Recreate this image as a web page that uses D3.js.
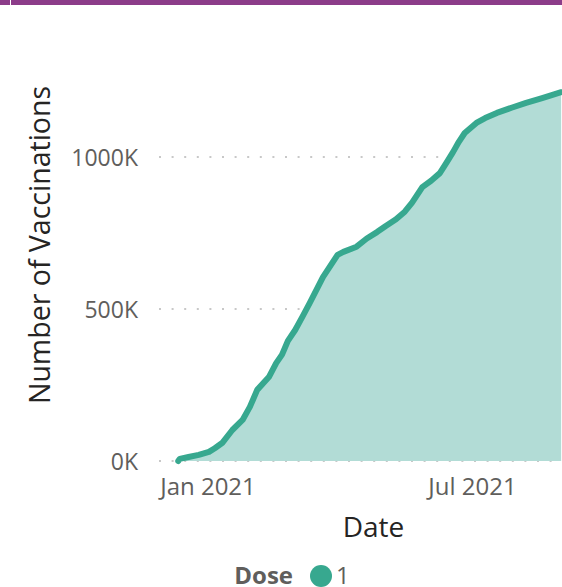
<!DOCTYPE html>
<html><head><meta charset="utf-8">
<script src="https://cdn.jsdelivr.net/npm/d3@7"></script>
<style>body{margin:0;background:#fff;overflow:hidden} svg{display:block}</style>
</head><body><svg id="c" width="562" height="587"></svg>
<script>
// Data (values in thousands)
const dates = ["2020-12-12","2020-12-13","2020-12-19","2020-12-26","2021-01-02","2021-01-06","2021-01-11","2021-01-18","2021-01-25","2021-01-30","2021-02-04","2021-02-12","2021-02-17","2021-02-21","2021-02-25","2021-03-02","2021-03-07","2021-03-12","2021-03-21","2021-03-31","2021-04-04","2021-04-13","2021-04-20","2021-04-27","2021-05-03","2021-05-10","2021-05-16","2021-05-21","2021-05-28","2021-06-03","2021-06-09","2021-06-14","2021-06-18","2021-06-22","2021-06-26","2021-07-04","2021-07-10","2021-07-18","2021-07-28","2021-08-07","2021-08-18","2021-08-24","2021-08-31"];
const values = [0,7,13,20,30,42,59,102,135,178,234,276,322,350,395,431,475,520,605,678,688,705,732,753,773,795,820,850,901,922,947,985,1016,1050,1079,1112,1128,1145,1162,1178,1194,1203,1213];
const yTicks = [0,500,1000];
const yTickLabels = ["0K","500K","1000K"];
const xTicks = ["2021-01-01","2021-07-01"];
const xTickLabels = ["Jan 2021","Jul 2021"];
const legendTitle = "Dose";
const seriesNames = ["1"];

const svg = d3.select("#c");
const parse = d3.timeParse("%Y-%m-%d");
const data = dates.map((d,i)=>({date:parse(d), v:values[i]}));

const x = d3.scaleTime().domain([parse(xTicks[0]), parse(xTicks[1])]).range([207.5, 472]);
const y = d3.scaleLinear().domain([0,1000]).range([461,157]);

const font = "'Open Sans', 'Noto Sans', sans-serif";

// top bar
svg.append("rect").attr("x",0).attr("y",0).attr("width",562).attr("height",5).attr("fill","#8C3C89");
svg.append("rect").attr("x",10).attr("y",0).attr("width",1).attr("height",5).attr("fill","#fff");

// gridlines
const grid = svg.append("g");
yTicks.forEach(t=>{
  grid.append("line").attr("x1",159).attr("x2",562).attr("y1",y(t)).attr("y2",y(t))
    .attr("stroke","#C8C8C8").attr("stroke-width",2).attr("stroke-dasharray","2,10.6");
});

// area + line
const area = d3.area().x(d=>x(d.date)).y0(y(0)).y1(d=>y(d.v));
const line = d3.line().x(d=>x(d.date)).y(d=>y(d.v));
svg.append("path").datum(data).attr("d",area).attr("fill","#B2DCD6");
svg.append("path").datum(data).attr("d",line).attr("fill","none").attr("stroke","#37A88F")
  .attr("stroke-width",6).attr("stroke-linejoin","round").attr("stroke-linecap","round");

// y axis labels
const yAxis = d3.axisLeft(y).tickValues(yTicks).tickFormat((d,i)=>yTickLabels[i]).tickSize(0).tickPadding(0);
const ya = svg.append("g").attr("transform","translate(138,0)").call(yAxis);
ya.select(".domain").remove();
ya.selectAll("text").attr("font-family",font).attr("font-size",23).attr("fill","#605E5C").attr("dy","0.35em");

// x axis labels
const xAxis = d3.axisBottom(x).tickValues(xTicks.map(parse)).tickFormat((d,i)=>xTickLabels[i]).tickSize(0).tickPadding(0);
const xa = svg.append("g").attr("transform","translate(0,495)").call(xAxis);
xa.select(".domain").remove();
xa.selectAll("text").attr("font-family",font).attr("font-size",24).attr("fill","#605E5C").attr("y",0).attr("dy","0");

// axis titles
svg.append("text").attr("transform","translate(50,245) rotate(-90)").attr("text-anchor","middle")
  .attr("font-family",font).attr("font-size",28.5).attr("fill","#252423").text("Number of Vaccinations");
svg.append("text").attr("x",373.5).attr("y",537).attr("text-anchor","middle")
  .attr("font-family",font).attr("font-size",28).attr("fill","#252423").text("Date");

// legend
svg.append("text").attr("x",293).attr("y",584).attr("text-anchor","end")
  .attr("font-family",font).attr("font-size",24).attr("font-weight","bold").attr("fill","#605E5C").text(legendTitle);
seriesNames.forEach((s,i)=>{
  svg.append("circle").attr("cx",321).attr("cy",576).attr("r",11).attr("fill","#37A88F");
  svg.append("text").attr("x",336).attr("y",584).attr("font-family",font).attr("font-size",24).attr("fill","#605E5C").text(s);
});
</script>
</body></html>
